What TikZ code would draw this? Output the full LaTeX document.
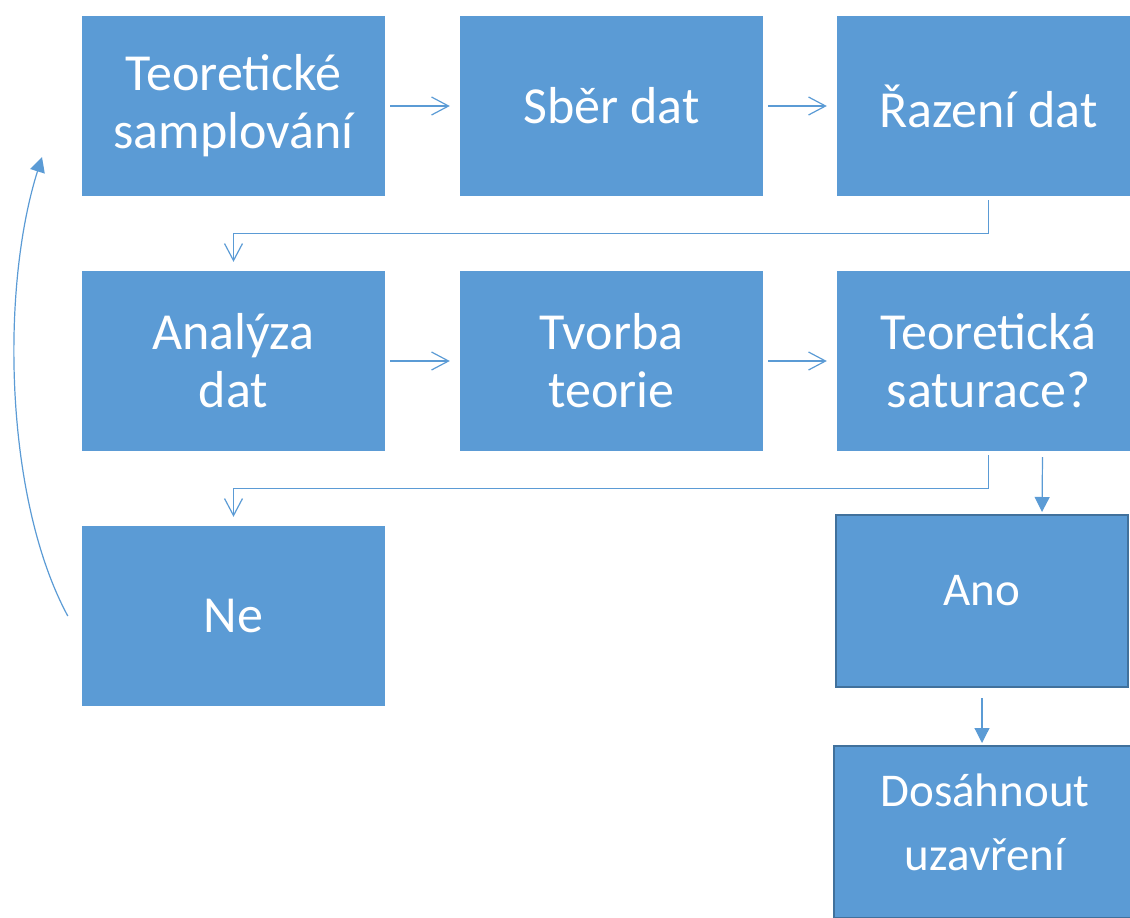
\documentclass[tikz,border=0pt]{standalone}
\usepackage{fontspec}
\setmainfont{Carlito}
\usetikzlibrary{arrows.meta}
\definecolor{boxBlue}{HTML}{5B9BD5}
\definecolor{boxEdge}{HTML}{41719C}

\begin{document}
\begin{tikzpicture}
            [x=1pt, y=-1pt,
             stepBox/.style={rectangle,
                        fill=boxBlue,
                        text=white,
                        align=center,
                        inner sep=0pt,
                        minimum width=303pt,
                        minimum height=180pt,
                        font=\fontsize{52}{58}\selectfont},
             edgeBox/.style={stepBox,
                        draw=boxEdge,
                        line width=2pt,
                        minimum width=292pt,
                        minimum height=172pt,
                        font=\fontsize{47}{64}\selectfont},
             openArrow/.style={draw=boxBlue, line width=1.2pt, -{Straight Barb[length=17pt,width=18pt]}},
             fillArrow/.style={draw=boxBlue, line width=1.2pt, -{Triangle[length=15pt,width=15pt]}}]

            \useasboundingbox (0,0) rectangle (1130,918);

            \node[stepBox] (sampling) at (233.5,106) {Teoretické\\samplování};
            \node[stepBox] (collection) at (611.5,106) {Sběr dat};
            \node[stepBox] (sorting) at (988.5,106) {Řazení dat};
            \node[stepBox] (analysis) at (233.5,361) {Analýza\\dat};
            \node[stepBox] (theory) at (611.5,361) {Tvorba\\teorie};
            \node[stepBox] (saturation) at (988.5,361) {Teoretická\\saturace?};
            \node[stepBox] (no) at (233.5,616) {Ne};
            \node[edgeBox, text depth=22pt] (yes) at (982,601) {Ano};
            \node[edgeBox, text depth=20pt, minimum width=302pt] (closure) at (985,832) {Dosáhnout\\uzavření};

            \coordinate (loopEnd) at (42,157);

            \draw [openArrow, shorten <=5pt, shorten >=10pt] (sampling) -- (collection);
            \draw [openArrow, shorten <=5pt, shorten >=10pt] (collection) -- (sorting);
            \draw [openArrow] ([yshift=-4pt]sorting.south) -- ++(0,33) -| ([yshift=9pt]analysis.north);
            \draw [openArrow, shorten <=5pt, shorten >=10pt] (analysis) -- (theory);
            \draw [openArrow, shorten <=5pt, shorten >=10pt] (theory) -- (saturation);
            \draw [openArrow] ([yshift=-4pt]saturation.south) -- ++(0,33) -| ([yshift=9pt]no.north);
            \draw [fillArrow] ([xshift=54pt,yshift=-6pt]saturation.south) -- ([xshift=60pt,yshift=2pt]yes.north);
            \draw [fillArrow] ([yshift=-10pt]yes.south) -- ([yshift=2pt]yes.south |- closure.north);
            \draw [fillArrow] ([xshift=-14pt]no.west) .. controls (5,500) and (0,290) .. (loopEnd);
\end{tikzpicture}
\end{document}
